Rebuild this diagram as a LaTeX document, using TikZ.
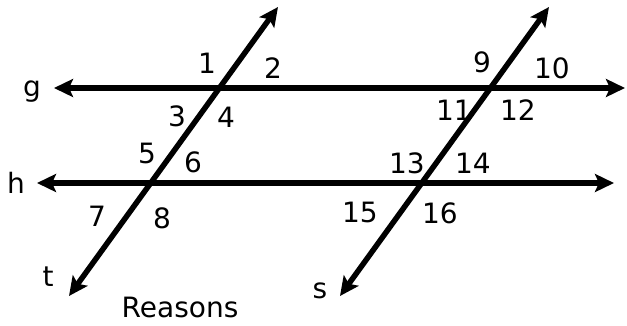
\documentclass[tikz,border=0pt]{standalone}
\usepackage{fontspec}
\setmainfont{DejaVu Sans}
\usetikzlibrary{arrows.meta}
\begin{document}
\begin{tikzpicture}[x=1pt,y=-1pt,
  ray/.style={line width=5.5pt,{Stealth[length=19pt,width=18pt,inset=4pt]}-{Stealth[length=19pt,width=18pt,inset=4pt]}},
  lbl/.style={font=\fontsize{28}{32}\selectfont,inner sep=0pt}]
\useasboundingbox (0,0) rectangle (627,325);
\coordinate (gL) at (54,88);
\coordinate (gR) at (625,88);
\coordinate (hL) at (37,183);
\coordinate (hR) at (614,183);
\coordinate (tT) at (278,7);
\coordinate (tB) at (69,296);
\coordinate (sT) at (549,7);
\coordinate (sB) at (340,296);
\draw[ray] (gL) -- (gR);
\draw[ray] (hL) -- (hR);
\draw[ray] (tB) -- (tT);
\draw[ray] (sB) -- (sT);
\node[lbl] (lg) at (32,92) {g};
\node[lbl] (lh) at (16,183) {h};
\node[lbl] (lt) at (48,277) {t};
\node[lbl] (ls) at (320,291) {s};
\node[lbl] (rs) at (180,307) {Reasons};
\node[lbl] (n1) at (207,63) {1};
\node[lbl] (n2) at (273,68) {2};
\node[lbl] (n3) at (177,116) {3};
\node[lbl] (n4) at (226,117) {4};
\node[lbl] (n5) at (147,153) {5};
\node[lbl] (n6) at (193,162) {6};
\node[lbl] (n7) at (97,216) {7};
\node[lbl] (n8) at (162,218) {8};
\node[lbl] (n9) at (482,62) {9};
\node[lbl] (n10) at (552,68) {10};
\node[lbl] (n11) at (454,110) {11};
\node[lbl] (n12) at (518,110) {12};
\node[lbl] (n13) at (407,163) {13};
\node[lbl] (n14) at (473,163) {14};
\node[lbl] (n15) at (360,212) {15};
\node[lbl] (n16) at (440,213) {16};
\end{tikzpicture}
\end{document}
